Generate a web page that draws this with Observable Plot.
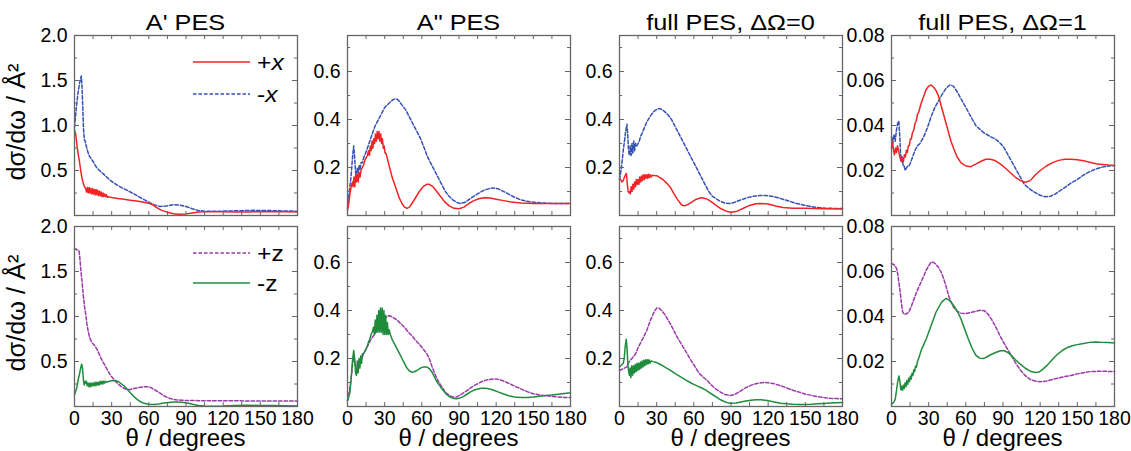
<!DOCTYPE html>
<html><head><meta charset="utf-8">
<script src="https://cdn.jsdelivr.net/npm/d3@7"></script>
<script src="https://cdn.jsdelivr.net/npm/@observablehq/plot@0.6"></script>
<style>
html,body{margin:0;padding:0;background:#fff;}
#root{position:relative;width:1131px;height:451px;overflow:hidden;font-family:"Liberation Sans",Arial,sans-serif;}
.panel{position:absolute;}
</style></head><body><div id="root"></div>
<script>
// ---------- labels ----------
const columnTitles = ["A' PES", "A\" PES", "full PES, \u0394\u03A9=0", "full PES, \u0394\u03A9=1"];
const xTickValues = [0, 30, 60, 90, 120, 150, 180];
const xMinorValues = [15, 45, 75, 105, 135, 165];
const yMaxByColumn = [2.0, 0.75, 0.75, 0.08];
const yTickValues = [[0.5, 1.0, 1.5, 2.0], [0.2, 0.4, 0.6], [0.2, 0.4, 0.6], [0.02, 0.04, 0.06, 0.08]];
const yMinorValues = [[0.25, 0.75, 1.25, 1.75], [0.1, 0.3, 0.5, 0.7], [0.1, 0.3, 0.5, 0.7], [0.01, 0.03, 0.05, 0.07]];
const yTickFormats = [".1f", ".1f", ".1f", ".2f"];
const topSeriesNames = ["+x", "-x"];
const bottomSeriesNames = ["+z", "-z"];

// ---------- data: [theta (deg), dsigma/domega (A^2)] ----------
// Top row, A' PES
const apPlusX = [[0,0.95],[1,0.9],[2,0.78],[3,0.68],[4,0.6],[5,0.5],[6,0.42],[7,0.36],[8,0.32],[9,0.3],
 [9.7,0.26],[10.4,0.31],[11.1,0.25],[11.8,0.31],[12.5,0.25],[13.2,0.3],[13.9,0.24],[14.6,0.3],[15.3,0.24],[16,0.29],
 [16.7,0.23],[17.4,0.29],[18.1,0.23],[18.8,0.28],[19.5,0.22],[20.2,0.27],[20.9,0.22],[21.6,0.26],[22.3,0.21],[23,0.25],
 [23.7,0.21],[24.4,0.24],[25.1,0.21],[25.8,0.23],[26.5,0.2],[27.5,0.21],[30,0.2],[35,0.19],[40,0.18],[45,0.17],[50,0.16],
 [55,0.15],[60,0.135],[63,0.12],[66,0.09],[70,0.06],[75,0.035],[80,0.02],[85,0.015],[90,0.018],[95,0.028],[100,0.038],
 [105,0.042],[110,0.043],[120,0.042],[130,0.04],[140,0.04],[150,0.042],[160,0.042],[170,0.041],[180,0.04]];
const apMinusX = [[0,0.98],[1.5,1.2],[3,1.38],[4.5,1.5],[5.5,1.55],[6,1.45],[6.7,1.2],[7.3,0.95],[8,0.84],[8.6,0.83],
 [9.3,0.78],[10.5,0.72],[12,0.66],[13.5,0.63],[15,0.6],[18,0.53],[21,0.49],[25,0.44],[29,0.39],[33,0.35],[38,0.31],
 [42.5,0.28],[48,0.24],[53,0.2],[57,0.17],[61,0.14],[65,0.115],[69,0.1],[74,0.105],[80,0.12],[85,0.115],[90,0.1],
 [95,0.075],[100,0.055],[105,0.048],[115,0.047],[130,0.052],[145,0.057],[155,0.056],[165,0.052],[180,0.048]];
// Top row, A'' PES
const appPlusX = [[0,0.02],[1,0.05],[2,0.09],[3,0.12],[4,0.14],[4.5,0.12],[5.2,0.16],[5.9,0.12],[6.6,0.17],[7.3,0.14],
 [8,0.17],[8.7,0.14],[9.4,0.18],[10.1,0.16],[11,0.19],[12,0.2],[13,0.21],[14,0.23],[15,0.24],[16,0.25],[17,0.27],
 [17.7,0.25],[18.4,0.29],[19.1,0.27],[19.8,0.31],[20.5,0.28],[21.2,0.32],[21.9,0.3],[22.6,0.34],[23.3,0.31],[24,0.35],
 [24.7,0.32],[25.4,0.35],[26.1,0.31],[26.8,0.34],[27.5,0.3],[28.2,0.32],[28.9,0.28],[29.6,0.29],[30.3,0.26],[31,0.26],
 [32,0.24],[34,0.2],[36,0.16],[38,0.13],[40,0.1],[42,0.07],[44,0.05],[46,0.035],[48,0.03],[50,0.035],[52,0.05],[55,0.075],
 [58,0.1],[61,0.12],[64,0.13],[66,0.13],[69,0.12],[72,0.1],[75,0.08],[78,0.06],[82,0.04],[86,0.03],[90,0.028],[94,0.035],
 [98,0.05],[102,0.062],[106,0.07],[110,0.074],[115,0.073],[120,0.068],[126,0.062],[132,0.056],[140,0.052],[150,0.05],
 [165,0.05],[180,0.05]];
const appMinusX = [[0,0.03],[1.5,0.1],[3,0.17],[4,0.24],[5,0.29],[5.8,0.24],[6.5,0.18],[7.2,0.16],[8,0.2],[8.7,0.17],
 [9.4,0.21],[10.1,0.19],[11,0.22],[12,0.22],[13,0.24],[14.6,0.26],[16,0.28],[18,0.31],[20,0.34],[22,0.37],[24,0.39],
 [26,0.41],[28,0.43],[30,0.45],[32,0.46],[34,0.47],[36,0.48],[38,0.485],[40,0.485],[42,0.475],[44,0.46],[47,0.44],
 [50,0.41],[53,0.38],[56,0.35],[59,0.32],[62,0.28],[65,0.24],[68,0.21],[70,0.19],[73,0.16],[76,0.13],[79,0.1],[82,0.08],
 [85,0.065],[88,0.055],[91,0.05],[95,0.055],[100,0.074],[105,0.09],[110,0.105],[115,0.113],[118,0.115],[122,0.11],
 [128,0.095],[134,0.078],[140,0.065],[147,0.057],[155,0.053],[165,0.05],[180,0.05]];
// Top row, full PES, dOmega = 0
const f0PlusX = [[0,0.15],[1,0.15],[2,0.14],[3,0.145],[4,0.16],[5,0.17],[5.6,0.175],[6.3,0.13],[7,0.1],[7.5,0.095],
 [8,0.1],[8.7,0.09],[9.4,0.12],[10.1,0.1],[10.8,0.13],[11.5,0.11],[12.2,0.14],[12.9,0.12],[13.6,0.15],[14.3,0.13],
 [15,0.15],[15.7,0.13],[16.4,0.16],[17.1,0.14],[17.8,0.165],[18.5,0.145],[19.2,0.17],[19.9,0.15],[20.6,0.17],[21.3,0.155],
 [22,0.17],[22.7,0.155],[23.4,0.172],[24.1,0.158],[24.8,0.17],[25.5,0.16],[26.5,0.168],[28,0.167],[30,0.166],[32,0.16],
 [35,0.15],[38,0.135],[41,0.118],[44,0.09],[47,0.065],[50,0.045],[52,0.04],[55,0.045],[58,0.055],[62,0.068],[66,0.074],
 [70,0.07],[74,0.058],[78,0.042],[82,0.028],[86,0.018],[90,0.014],[95,0.018],[100,0.03],[105,0.042],[110,0.049],
 [114,0.05],[120,0.048],[126,0.04],[132,0.033],[140,0.03],[150,0.03],[165,0.028],[180,0.027]];
const f0MinusX = [[0,0.15],[1,0.18],[2,0.22],[3,0.27],[4,0.31],[5,0.35],[6,0.38],[6.7,0.33],[7.3,0.27],[8,0.25],
 [8.7,0.29],[9.4,0.25],[10.1,0.3],[10.8,0.26],[11.5,0.31],[12.2,0.27],[13,0.3],[14,0.29],[15,0.3],[16,0.31],[17,0.33],
 [18,0.34],[19.6,0.36],[22,0.39],[25,0.415],[28,0.435],[31,0.445],[33,0.445],[36,0.435],[39,0.42],[42,0.4],[45,0.37],
 [48,0.34],[51,0.31],[54,0.28],[57,0.25],[60,0.22],[63,0.19],[66,0.16],[69,0.13],[72,0.1],[75,0.08],[78,0.07],[81,0.06],
 [85,0.052],[89,0.05],[93,0.055],[98,0.065],[103,0.074],[108,0.08],[113,0.083],[118,0.083],[123,0.08],[128,0.074],
 [133,0.066],[138,0.058],[143,0.05],[149,0.043],[155,0.037],[162,0.032],[170,0.03],[180,0.029]];
// Top row, full PES, dOmega = 1
const f1PlusX = [[0,0.03],[0.8,0.033],[1.6,0.029],[2.4,0.027],[3.2,0.03],[4,0.028],[4.8,0.031],[5.6,0.029],[6.4,0.027],
 [7.2,0.025],[8,0.024],[8.8,0.0255],[9.6,0.024],[10.4,0.027],[11.2,0.026],[12,0.029],[12.8,0.028],[13.6,0.031],
 [14.4,0.031],[15.2,0.034],[16,0.034],[17,0.037],[18,0.038],[19,0.041],[20,0.042],[21,0.045],[22,0.046],[23,0.048],
 [24,0.05],[26,0.053],[28,0.056],[30,0.0575],[32,0.058],[34,0.057],[36,0.0555],[38,0.053],[40,0.049],[42,0.045],
 [44,0.041],[46,0.037],[48,0.033],[50,0.03],[53,0.026],[56,0.0235],[60,0.022],[64,0.0217],[68,0.0228],[72,0.024],
 [76,0.025],[80,0.025],[84,0.0243],[88,0.0228],[92,0.021],[96,0.019],[100,0.017],[104,0.0155],[108,0.0148],[112,0.0155],
 [116,0.018],[120,0.02],[125,0.022],[130,0.0235],[135,0.0245],[140,0.025],[145,0.025],[150,0.0248],[155,0.0243],
 [160,0.0237],[165,0.023],[170,0.0227],[175,0.0224],[180,0.0222]];
const f1MinusX = [[0,0.035],[1,0.032],[2,0.036],[3,0.033],[4,0.038],[5,0.041],[5.9,0.042],[6.6,0.036],[7.3,0.028],
 [8,0.024],[8.7,0.026],[9.4,0.022],[10.2,0.022],[11,0.02],[12,0.021],[13,0.022],[14,0.022],[15,0.023],[17,0.026],
 [19,0.029],[21,0.031],[23,0.032],[26,0.035],[29,0.039],[32,0.044],[35,0.048],[38,0.051],[41,0.054],[44,0.0565],
 [47,0.058],[50,0.0575],[53,0.055],[56,0.052],[59,0.049],[62,0.046],[65,0.043],[68,0.04],[71,0.0385],[74,0.037],
 [77,0.036],[80,0.035],[84,0.034],[88,0.032],[91,0.03],[94,0.027],[97,0.024],[100,0.021],[103,0.018],[107,0.014],
 [111,0.012],[115,0.0105],[120,0.009],[124,0.0083],[128,0.0085],[132,0.0095],[136,0.011],[140,0.0125],[145,0.0145],
 [150,0.016],[155,0.018],[160,0.0195],[165,0.0207],[170,0.0215],[175,0.022],[180,0.0222]];
// Bottom row, A' PES
const apPlusZ = [[0,1.74],[1,1.75],[2,1.74],[3,1.74],[3.8,1.72],[4.5,1.62],[5.2,1.5],[6,1.4],[7,1.25],[8,1.12],[9,1.03],
 [10,0.92],[11,0.84],[12,0.78],[13,0.74],[14,0.71],[16,0.68],[18,0.64],[20,0.58],[22,0.52],[24,0.47],[26,0.42],[28,0.37],
 [30,0.33],[33,0.28],[36,0.24],[39,0.21],[42,0.19],[45,0.19],[48,0.2],[52,0.21],[56,0.22],[60,0.22],[63,0.2],[66,0.175],
 [69,0.15],[72,0.12],[75,0.1],[78,0.085],[82,0.075],[86,0.07],[90,0.067],[100,0.065],[120,0.063],[150,0.062],[180,0.06]];
const apMinusZ = [[0,0.13],[1,0.17],[2,0.22],[3,0.3],[4,0.36],[5,0.43],[5.8,0.47],[6.5,0.42],[7.2,0.3],[7.8,0.24],
 [8.4,0.28],[9,0.26],[9.6,0.28],[10.3,0.23],[11,0.26],[11.7,0.22],[12.4,0.26],[13.1,0.22],[13.8,0.26],[14.5,0.23],
 [15.2,0.26],[15.9,0.23],[16.6,0.27],[17.3,0.23],[18,0.27],[18.7,0.24],[19.4,0.27],[20.1,0.24],[20.8,0.28],[21.5,0.25],
 [22.2,0.28],[22.9,0.25],[23.6,0.28],[24.3,0.26],[25,0.28],[26,0.27],[28,0.28],[30,0.285],[32,0.29],[34,0.285],[36,0.27],
 [38,0.25],[40,0.23],[42,0.2],[44,0.17],[46,0.14],[48,0.11],[50,0.085],[53,0.055],[56,0.035],[60,0.025],[64,0.022],
 [68,0.028],[72,0.038],[76,0.045],[80,0.05],[84,0.05],[88,0.045],[92,0.035],[96,0.022],[100,0.012],[105,0.006],
 [110,0.004],[120,0.005],[130,0.01],[140,0.013],[150,0.012],[160,0.01],[170,0.008],[180,0.006]];
// Bottom row, A'' PES
const appPlusZ = [[0,0.025],[1,0.05],[2,0.08],[3,0.12],[4,0.17],[5,0.205],[5.8,0.19],[6.6,0.16],[7.5,0.15],[8.5,0.17],
 [10,0.19],[11.5,0.2],[13,0.22],[15,0.24],[17,0.26],[19,0.28],[21,0.295],[24,0.317],[27,0.34],[30,0.365],[32,0.376],
 [34,0.378],[37,0.37],[40,0.36],[43,0.345],[46,0.33],[49,0.31],[52,0.295],[55,0.275],[58,0.26],[61,0.24],[64,0.22],
 [66,0.2],[68,0.17],[70,0.143],[72,0.118],[74,0.1],[76,0.083],[78,0.067],[80,0.055],[82,0.047],[84,0.042],[86,0.039],
 [88,0.04],[91,0.048],[94,0.058],[97,0.068],[100,0.08],[104,0.092],[108,0.103],[112,0.11],[116,0.114],[119,0.115],
 [122,0.113],[126,0.106],[130,0.097],[134,0.087],[138,0.078],[142,0.068],[146,0.06],[150,0.053],[155,0.048],[160,0.045],
 [165,0.042],[170,0.04],[175,0.038],[180,0.037]];
const appMinusZ = [[0,0.025],[1,0.04],[2,0.06],[3,0.12],[4,0.19],[5,0.233],[5.8,0.2],[6.5,0.14],[7.2,0.13],[7.9,0.19],
 [8.6,0.14],[9.3,0.2],[10,0.16],[10.7,0.21],[11.4,0.18],[12,0.22],[13,0.22],[14,0.23],[15,0.24],[16,0.25],[17,0.27],
 [18,0.28],[19,0.3],[20,0.31],[21,0.33],[21.7,0.3],[22.4,0.36],[23.1,0.31],[23.8,0.38],[24.5,0.31],[25.2,0.4],[25.9,0.31],
 [26.6,0.41],[27.3,0.31],[28,0.41],[28.7,0.3],[29.4,0.4],[30.1,0.3],[30.8,0.38],[31.5,0.3],[32.2,0.35],[32.9,0.3],
 [33.6,0.32],[34.6,0.3],[36,0.28],[38,0.26],[40,0.24],[42,0.22],[44,0.2],[46,0.18],[48,0.16],[50,0.148],[52,0.143],
 [54,0.145],[56,0.15],[58,0.157],[60,0.163],[62,0.165],[64,0.165],[66,0.158],[68,0.145],[70,0.125],[72,0.105],[74,0.09],
 [76,0.075],[78,0.062],[80,0.05],[82,0.042],[84,0.036],[86,0.033],[88,0.032],[90,0.034],[93,0.04],[96,0.05],[99,0.06],
 [102,0.068],[105,0.073],[108,0.076],[111,0.076],[114,0.074],[118,0.068],[122,0.06],[126,0.052],[130,0.045],[135,0.04],
 [140,0.038],[145,0.038],[150,0.04],[155,0.043],[160,0.046],[165,0.048],[170,0.051],[175,0.054],[180,0.057]];
// Bottom row, full PES, dOmega = 0
const f0PlusZ = [[0,0.15],[2,0.155],[4,0.16],[6,0.165],[7,0.18],[8.3,0.19],[10,0.2],[11.5,0.21],[13,0.22],[15,0.245],
 [17,0.265],[19,0.285],[22,0.317],[25,0.36],[28,0.395],[30,0.41],[32,0.41],[34,0.4],[37,0.38],[41,0.345],[44,0.315],
 [47,0.285],[50,0.26],[54.6,0.22],[58,0.19],[61,0.165],[64,0.14],[67,0.125],[70.8,0.108],[74,0.09],[78,0.072],
 [81.5,0.06],[85,0.05],[89.6,0.046],[93,0.05],[97,0.062],[100,0.072],[104,0.084],[108,0.092],[112,0.097],[116,0.1],
 [120,0.099],[124,0.096],[128,0.09],[132,0.083],[136,0.075],[140,0.068],[145,0.06],[149,0.053],[155,0.046],[160,0.041],
 [165,0.037],[170,0.034],[175,0.033],[180,0.032]];
const f0MinusZ = [[0,0.165],[1,0.17],[2,0.175],[3,0.18],[3.8,0.2],[4.6,0.25],[5.4,0.28],[6,0.25],[6.6,0.19],[7.3,0.15],
 [8,0.13],[8.6,0.16],[9.2,0.12],[9.9,0.17],[10.6,0.13],[11.3,0.17],[12,0.14],[12.7,0.175],[13.4,0.145],[14.1,0.18],
 [14.8,0.15],[15.5,0.18],[16.2,0.155],[16.9,0.185],[17.6,0.16],[18.3,0.19],[19,0.165],[19.7,0.193],[20.4,0.17],
 [21.1,0.195],[21.8,0.175],[22.5,0.195],[23.2,0.178],[23.9,0.195],[24.6,0.18],[25.5,0.19],[27,0.187],[30,0.183],
 [33,0.175],[36,0.166],[39,0.157],[42,0.147],[45,0.137],[48,0.128],[51,0.118],[54,0.109],[57,0.1],[60,0.092],[63,0.085],
 [66,0.078],[69,0.07],[72,0.06],[75,0.05],[78,0.04],[81,0.03],[84,0.022],[87,0.016],[90,0.014],[94,0.015],[98,0.019],
 [102,0.023],[106,0.026],[110,0.028],[114,0.028],[118,0.026],[122,0.022],[126,0.018],[130,0.014],[135,0.011],[140,0.009],
 [145,0.008],[150,0.008],[155,0.009],[160,0.011],[165,0.013],[170,0.015],[175,0.016],[180,0.017]];
// Bottom row, full PES, dOmega = 1
const f1PlusZ = [[0,0.0636],[2,0.063],[4,0.0615],[5,0.059],[6,0.055],[7,0.051],[8,0.046],[9,0.042],[10,0.041],[12,0.0412],
 [14,0.042],[16,0.0445],[18,0.0475],[20,0.0505],[22,0.053],[24,0.0555],[26,0.058],[28,0.0605],[30,0.0625],[32,0.0642],
 [34,0.064],[36,0.0632],[38,0.0618],[40,0.0598],[42,0.057],[44,0.0535],[46,0.0495],[48,0.0465],[50,0.0442],[53,0.0423],
 [56,0.0415],[60,0.0413],[64,0.0418],[68,0.0423],[72,0.0428],[75,0.0426],[78,0.041],[81,0.0385],[84,0.0355],[88,0.031],
 [92,0.027],[96,0.0233],[100,0.0195],[104,0.0162],[108,0.0137],[112,0.012],[116,0.0113],[120,0.011],[125,0.0113],
 [130,0.012],[135,0.0127],[140,0.0133],[145,0.0138],[150,0.0145],[155,0.015],[160,0.0155],[165,0.0156],[170,0.0157],
 [175,0.0156],[180,0.0155]];
const f1MinusZ = [[0,0.001],[1,0.0015],[2,0.002],[3,0.0032],[4,0.007],[5,0.011],[6,0.0136],[6.8,0.011],[7.5,0.0075],
 [8.2,0.009],[8.9,0.0072],[9.6,0.0095],[10.3,0.008],[11,0.0105],[11.7,0.0088],[12.4,0.0115],[13.1,0.0098],[13.8,0.0125],
 [14.5,0.011],[15.2,0.0135],[15.9,0.0122],[16.6,0.0148],[17.3,0.0138],[18,0.0163],[18.7,0.0155],[19.4,0.018],[20.1,0.0175],
 [21,0.02],[22,0.0215],[24,0.025],[26,0.0275],[28,0.03],[30,0.033],[32,0.036],[34,0.039],[36,0.042],[38,0.044],[40,0.046],
 [42,0.0472],[44,0.048],[46,0.0475],[48,0.0465],[50,0.045],[53,0.0425],[56,0.039],[59,0.0345],[62,0.03],[65,0.026],
 [68,0.0228],[71,0.0215],[74,0.0213],[77,0.022],[80,0.023],[84,0.024],[88,0.0248],[91,0.0248],[94,0.024],[97,0.0225],
 [100,0.0208],[104,0.0188],[108,0.017],[112,0.0157],[116,0.0151],[119,0.0153],[122,0.0165],[126,0.0185],[130,0.021],
 [134,0.0232],[138,0.025],[142,0.0262],[146,0.027],[150,0.0275],[155,0.028],[160,0.0285],[165,0.0287],[170,0.0285],
 [175,0.0284],[180,0.0282]];

const topRowSeries = [[apPlusX, apMinusX], [appPlusX, appMinusX], [f0PlusX, f0MinusX], [f1PlusX, f1MinusX]];
const bottomRowSeries = [[apPlusZ, apMinusZ], [appPlusZ, appMinusZ], [f0PlusZ, f0MinusZ], [f1PlusZ, f1MinusZ]];

// ---------- styles ----------
const seriesStyle = {
  "+x": {stroke: "#f02424", dash: null},
  "-x": {stroke: "#3550b4", dash: "3.5,2"},
  "+z": {stroke: "#9a3aa8", dash: "3.5,2"},
  "-z": {stroke: "#1f8c3c", dash: null}
};
const frameColor = "#666";
const FONT = "'Liberation Sans', Arial, sans-serif";

const root = document.getElementById("root");
const frameLefts = [74, 347, 619, 891];
const frameTops = [35, 226];
const FW = 223, FH = 180;

function makePanel(col, row) {
  const mL = 62, mR = 8, mT = 12, mB = row === 0 ? 10 : 34;
  const names = row === 0 ? topSeriesNames : bottomSeriesNames;
  const seriesList = row === 0 ? topRowSeries[col] : bottomRowSeries[col];
  const lineMarks = [];
  const order = row === 0 ? [1, 0] : [0, 1];
  for (const i of order) {
    const st = seriesStyle[names[i]];
    const rows = seriesList[i].map(([t, v]) => ({t, v}));
    lineMarks.push(Plot.line(rows, {x: "t", y: "v", stroke: st.stroke, strokeWidth: 1.5,
      strokeDasharray: st.dash || undefined, curve: "linear"}));
  }
  const tickStyle = {stroke: frameColor, strokeWidth: 1};
  const xAll = [...xTickValues, ...xMinorValues];
  const chart = Plot.plot({
    width: FW + mL + mR, height: FH + mT + mB,
    marginLeft: mL, marginRight: mR, marginTop: mT, marginBottom: mB,
    style: {fontFamily: FONT, fontSize: "19.5px", color: "#000", background: "transparent", overflow: "visible"},
    x: {domain: [0, 180], ticks: xTickValues, tickSize: 0, tickPadding: 5, tickFormat: d => String(d),
        axis: row === 1 ? "bottom" : null, label: null},
    y: {domain: [0, yMaxByColumn[col]], ticks: yTickValues[col], tickSize: 0, tickPadding: 7,
        tickFormat: d3.format(yTickFormats[col]), label: null},
    marks: [
      ...lineMarks,
      Plot.ruleX(xAll, {x: d => d, insetTop: FH - 4, ...tickStyle}),
      Plot.ruleX(xAll, {x: d => d, insetBottom: FH - 4, ...tickStyle}),
      Plot.ruleY(yTickValues[col], {y: d => d, insetRight: FW - 5, ...tickStyle}),
      Plot.ruleY(yMinorValues[col], {y: d => d, insetRight: FW - 3, ...tickStyle}),
      Plot.ruleY(yTickValues[col], {y: d => d, insetLeft: FW - 5, ...tickStyle}),
      Plot.ruleY(yMinorValues[col], {y: d => d, insetLeft: FW - 3, ...tickStyle}),
      Plot.frame({stroke: frameColor, strokeWidth: 1.3})
    ]
  });
  const wrap = document.createElement("div");
  wrap.className = "panel";
  wrap.style.left = (frameLefts[col] - mL) + "px";
  wrap.style.top = (frameTops[row] - mT) + "px";
  wrap.appendChild(chart);
  root.appendChild(wrap);
}

for (let r = 0; r < 2; r++) for (let c = 0; c < 4; c++) makePanel(c, r);

// ---------- overlay: titles, axis labels, legends ----------
const svg = d3.select(root).append("svg")
  .attr("width", 1131).attr("height", 451)
  .style("position", "absolute").style("left", "0px").style("top", "0px")
  .style("pointer-events", "none")
  .attr("font-family", FONT);

columnTitles.forEach((t, c) => {
  svg.append("text").attr("transform", `translate(${frameLefts[c] + FW / 2},30) scale(1.15,1)`)
    .attr("text-anchor", "middle").attr("font-size", 22).attr("fill", "#000").text(t);
  svg.append("text").attr("x", frameLefts[c] + FW / 2).attr("y", 446)
    .attr("text-anchor", "middle").attr("font-size", 24).attr("fill", "#000").text("\u03B8 / degrees");
});
frameTops.forEach(top => {
  svg.append("text").attr("transform", `translate(25,${top + FH / 2 - 3}) rotate(-90) scale(1.1,1.1)`)
    .attr("text-anchor", "middle").attr("font-size", 23).attr("fill", "#000")
    .text("d\u03C3/d\u03C9 / \u00C5\u00B2");
});

function legendEntry(name, y) {
  const st = seriesStyle[name];
  svg.append("line").attr("x1", 193).attr("x2", 250).attr("y1", y).attr("y2", y)
    .attr("stroke", st.stroke).attr("stroke-width", 1.5)
    .attr("stroke-dasharray", st.dash);
  const t = svg.append("text").attr("transform", `translate(257,${y + 8}) scale(1.12,1)`)
    .attr("font-size", 22).attr("fill", "#000");
  t.append("tspan").text(name[0]);
  t.append("tspan").attr("font-style", name[1] === "x" ? "italic" : "normal").text(name[1]);
}
legendEntry("+x", 62);
legendEntry("-x", 94);
legendEntry("+z", 253);
legendEntry("-z", 283);
</script></body></html>
